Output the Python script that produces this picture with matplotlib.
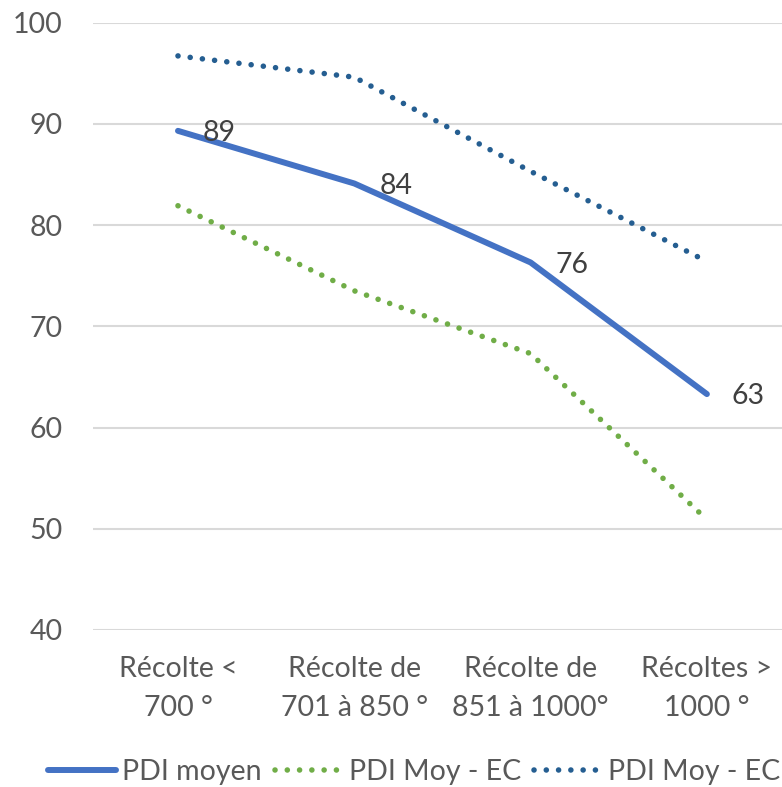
import numpy as np
import matplotlib
matplotlib.use("Agg")
import matplotlib.pyplot as plt
from matplotlib.lines import Line2D

# Data
categories = ["Récolte <\n700 °", "Récolte de\n701 à 850 °", "Récolte de\n851 à 1000°", "Récoltes >\n1000 °"]
pdi_moyen = [89.3, 84.1, 76.3, 63.3]
pdi_moins_ec = [81.9, 73.5, 67.3, 50.9]
pdi_plus_ec = [96.7, 94.6, 85.3, 76.4]
labels_moyen = ["89", "84", "76", "63"]
series_names = ["PDI moyen", "PDI Moy - EC", "PDI Moy - EC"]

plt.rcParams['font.family'] = ['Lato', 'DejaVu Sans']
FS = 20.5

fig = plt.figure(figsize=(7.82, 7.87), dpi=100)
W, H = 782, 787
left, right, top, bottom = 93, 782, 22.5, 630
ax = fig.add_axes([left / W, 1 - bottom / H, (right - left) / W, (bottom - top) / H])

x = np.arange(len(categories))
blue = "#4472C4"
green = "#70AD47"
dark = "#255E91"
dotted = (0, (0.01, 2.2))

ax.plot(x, pdi_moyen, color=blue, lw=4.3, solid_capstyle='round', solid_joinstyle='round', zorder=4)
ax.plot(x, pdi_moins_ec, color=green, lw=4.0, linestyle=dotted, dash_capstyle='round', zorder=3)
ax.plot(x, pdi_plus_ec, color=dark, lw=4.0, linestyle=dotted, dash_capstyle='round', zorder=3)

for xi, yi, lab in zip(x, pdi_moyen, labels_moyen):
    ax.annotate(lab, (xi, yi), xytext=(18, -1.5), textcoords='offset points',
                ha='left', va='center', fontsize=FS, color="#404040", zorder=5)

ax.set_xlim(-0.482, 3.426)
ax.set_ylim(40, 100)
ax.set_yticks(np.arange(40, 101, 10))
ax.set_xticks(x)
ax.set_xticklabels(categories, linespacing=1.6)
ax.tick_params(axis='both', length=0, labelsize=FS, colors="#595959")
ax.tick_params(axis='y', pad=22)
ax.tick_params(axis='x', pad=19)
ax.grid(axis='y', color="#D9D9D9", lw=1.5)
ax.set_axisbelow(True)
for sp in ax.spines.values():
    sp.set_visible(False)

handles = [
    Line2D([], [], color=blue, lw=4.3, solid_capstyle='round'),
    Line2D([], [], color=green, lw=4.0, linestyle=dotted, dash_capstyle='round'),
    Line2D([], [], color=dark, lw=4.0, linestyle=dotted, dash_capstyle='round'),
]
fig.legend(handles, series_names, loc='center', bbox_to_anchor=(414 / W, 1 - 772 / H),
           ncol=3, frameon=False, fontsize=FS, handlelength=2.4, handletextpad=0.2,
           columnspacing=0.45, labelcolor="#595959", borderaxespad=0, borderpad=0)

fig.savefig("out.png", dpi=100)
